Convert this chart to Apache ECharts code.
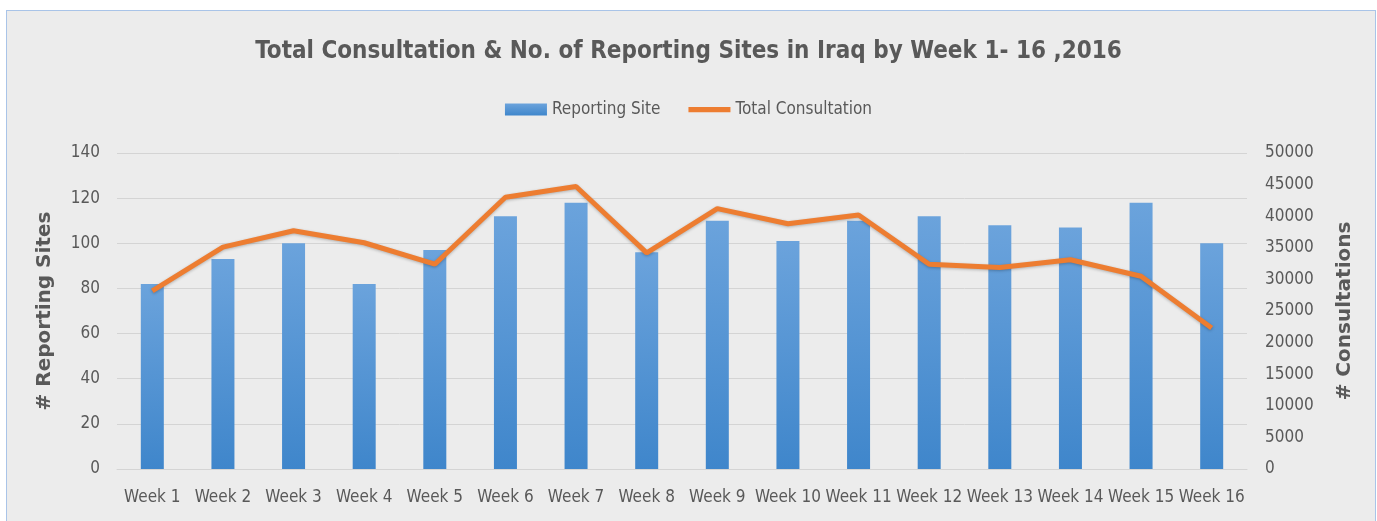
<!DOCTYPE html>
<html>
<head>
<meta charset="utf-8">
<script src="https://cdn.jsdelivr.net/npm/echarts@6/dist/echarts.min.js"></script>
<style>
    html, body { margin: 0; padding: 0; background: #fff; }
    #frame {
        position: absolute; left: 6px; top: 10px; width: 1368px; height: 520px;
        border: 1px solid #a9c4e8; background: #ececec;
    }
    #main { width: 1377px; height: 521px; position: absolute; left: 0; top: 0; }
</style>
</head>
<body>
<div id="frame"></div>
<div id="main"></div>
<script>
const weeks = ['Week 1', 'Week 2', 'Week 3', 'Week 4', 'Week 5', 'Week 6', 'Week 7', 'Week 8',
    'Week 9', 'Week 10', 'Week 11', 'Week 12', 'Week 13', 'Week 14', 'Week 15', 'Week 16']
const reportingSites = [82, 93, 100, 82, 97, 112, 118, 96, 110, 101, 110, 112, 108, 107, 118, 100]
const totalConsultation = [28200, 35100, 37700, 35800, 32400, 43000, 44700, 34200,
    41200, 38800, 40200, 32400, 31900, 33100, 30500, 22300]

const font = '"Liberation Sans Narrow", "DejaVu Sans Condensed", sans-serif'
const textColor = '#595959'

const myChart = echarts.init(document.getElementById('main'))
myChart.setOption({
    backgroundColor: 'transparent',
    textStyle: { fontFamily: font },
    title: {
        text: 'Total Consultation & No. of Reporting Sites in Iraq by Week 1- 16 ,2016',
        left: 'center',
        top: 35,
        textStyle: { fontFamily: font, fontSize: 24, fontWeight: 'bold', color: textColor }
    },
    legend: {
        top: 96,
        left: 'center',
        itemGap: 28,
        itemWidth: 42,
        itemHeight: 12,
        textStyle: { fontFamily: font, fontSize: 17, color: textColor },
        data: [
            { name: 'Reporting Site', icon: 'rect' },
            { name: 'Total Consultation', icon: 'path://M0,0 L8,0 L8,1 L0,1 Z' }
        ]
    },
    grid: { left: 117, right: 130, top: 153, bottom: 52 },
    xAxis: {
        type: 'category',
        data: weeks,
        axisTick: { show: false },
        axisLine: { lineStyle: { color: '#d4d4d4' } },
        axisLabel: { fontFamily: font, fontSize: 17, color: textColor, margin: 20, interval: 0 }
    },
    yAxis: [
        {
            type: 'value', min: 0, max: 140, interval: 20,
            name: '# Reporting Sites', nameLocation: 'middle', nameGap: 62, nameRotate: 90,
            nameTextStyle: { fontFamily: 'DejaVu Sans', fontSize: 20, fontWeight: 'bold', color: textColor },
            axisLabel: { fontFamily: font, fontSize: 17, color: textColor, margin: 17 },
            splitLine: { lineStyle: { color: '#d4d4d4', width: 1 } }
        },
        {
            type: 'value', min: 0, max: 50000, interval: 5000,
            name: '# Consultations', nameLocation: 'middle', nameGap: 88, nameRotate: 90,
            nameTextStyle: { fontFamily: 'DejaVu Sans', fontSize: 20, fontWeight: 'bold', color: textColor },
            axisLabel: {
                fontFamily: font, fontSize: 17, color: textColor, margin: 18,
                formatter: function (v) { return String(v) }
            },
            splitLine: { show: false }
        }
    ],
    series: [
        {
            name: 'Reporting Site',
            type: 'bar',
            barWidth: 23,
            data: reportingSites,
            itemStyle: {
                color: new echarts.graphic.LinearGradient(0, 0, 0, 1, [
                    { offset: 0, color: '#6ba3dc' },
                    { offset: 1, color: '#3f86cb' }
                ]),
                shadowColor: 'rgba(0,0,0,0.25)',
                shadowBlur: 3,
                shadowOffsetX: 1
            }
        },
        {
            name: 'Total Consultation',
            type: 'line',
            yAxisIndex: 1,
            data: totalConsultation,
            symbol: 'none',
            lineStyle: {
                color: '#ed7d31', width: 5,
                shadowColor: 'rgba(0,0,0,0.25)', shadowBlur: 3, shadowOffsetY: 1
            },
            itemStyle: { color: '#ed7d31' }
        }
    ]
})
</script>
</body>
</html>
